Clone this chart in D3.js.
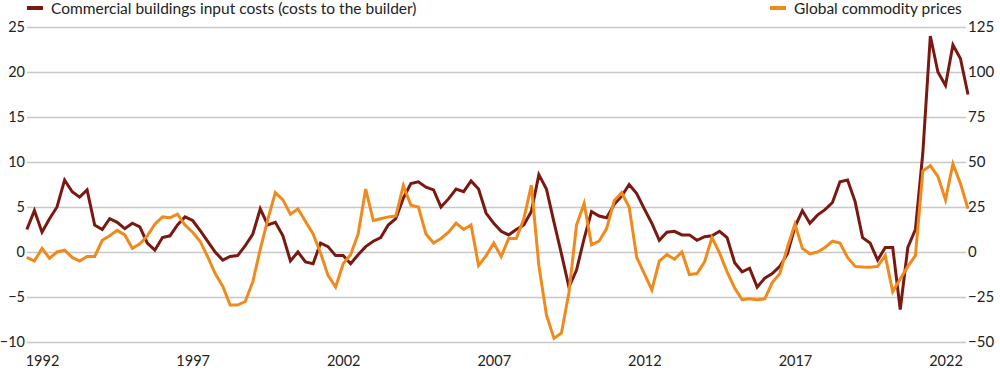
<!DOCTYPE html>
<meta charset="utf-8">
<style>
body { margin: 0; background: #fff; }
text { font-family: Lato, "Noto Sans", sans-serif; fill: #222; }
.grid line { stroke: #c8c8c8; stroke-width: 1.5; }
.grid .domain, .axis .domain { display: none; }
.line { fill: none; stroke-width: 3; stroke-linejoin: miter; }
</style>
<body></body>
<script src="https://d3js.org/d3.v7.min.js"></script>
<script>
// quarterly observations, Jul 1991 .. Oct 2022
var quarters = d3.timeMonth.range(new Date(1991, 6, 1), new Date(2022, 10, 1), 3);

// commercial buildings input costs, % y/y (left axis)
var buildingCosts = [
  2.5, 4.6, 2.2, 3.7, 5.0, 8.0, 6.7, 6.1, 6.9, 3.0,
  2.5, 3.7, 3.3, 2.6, 3.2, 2.8, 1.0, 0.2, 1.6, 1.8,
  3.0, 3.9, 3.5, 2.4, 1.2, 0.0, -0.9, -0.5, -0.4, 0.7,
  2.0, 4.8, 3.0, 3.3, 1.8, -1.0, 0.0, -1.1, -1.3, 1.0,
  0.6, -0.4, -0.4, -1.3, -0.3, 0.6, 1.2, 1.6, 3.0, 3.7,
  6.0, 7.6, 7.8, 7.2, 6.9, 5.0, 5.9, 7.0, 6.7, 7.9,
  7.0, 4.3, 3.2, 2.3, 1.9, 2.5, 3.0, 4.5, 8.6, 7.0,
  3.3, -0.2, -3.9, -2.0, 1.5, 4.5, 4.0, 3.8, 5.3, 6.2,
  7.5, 6.5, 4.8, 3.2, 1.3, 2.2, 2.3, 1.9, 1.9, 1.3,
  1.7, 1.8, 2.3, 1.6, -1.2, -2.2, -1.8, -3.9, -2.9, -2.4,
  -1.6, -0.2, 2.8, 4.6, 3.2, 4.1, 4.7, 5.5, 7.8, 8.0,
  5.6, 1.6, 1.0, -0.9, 0.5, 0.5, -6.4, 0.5, 2.5, 11.0,
  24.0, 20.0, 18.5, 23.0, 21.5, 17.5
];

// global commodity prices, % y/y (right axis)
var commodityPrices = [
  -3, -5, 2, -3.5, 0, 1, -3, -5, -2.5, -2.5,
  6.5, 9, 12, 9.5, 2, 4.5, 9, 15.5, 19.5, 19,
  21, 15, 11, 6, -2.5, -12, -19, -29.5, -29.5, -27.5,
  -16.5, 1.5, 18, 33, 29, 21, 24, 17, 10, -0.5,
  -13, -19.5, -6.5, -1.5, 10, 35, 17.5, 18.5, 19.5, 20,
  37, 26, 25, 10, 5, 7.5, 11, 16, 12.5, 15,
  -7.5, -2, 5, -2.5, 7.5, 7.5, 18.5, 37, -7.5, -35,
  -48, -45, -22.5, 15, 27, 4, 6, 13, 28.5, 33,
  25, -3, -12, -21, -5, -1.5, -4, 0, -12.5, -12,
  -5.5, 8, -0.5, -11, -20, -26.5, -26, -26.5, -26, -17,
  -12, 2.5, 15.5, 2, -1, 0, 2.5, 6, 5, -3,
  -8, -8.3, -8.5, -8, -2, -22, -15, -8, -2, 45,
  48, 42, 29, 49, 38, 24
];

var leftTicks = [-10, -5, 0, 5, 10, 15, 20, 25];
var rightTicks = [-50, -25, 0, 25, 50, 75, 100, 125];
var yearTicks = [1992, 1997, 2002, 2007, 2012, 2017, 2022];
var seriesNames = ["Commercial buildings input costs (costs to the builder)", "Global commodity prices"];
var colors = ["#7a1912", "#f08a1d"];

var width = 1000, height = 371;
var margin = {top: 27, right: 966, bottom: 342, left: 27}; // plot edges in px

var svg = d3.select("body").append("svg")
    .attr("width", width)
    .attr("height", height);

var x = d3.scaleTime()
    .domain([new Date(1992, 0, 1), new Date(2022, 0, 1)])
    .range([42, 945.5]);

var yLeft = d3.scaleLinear().domain([-10, 25]).range([margin.bottom, margin.top]);
var yRight = d3.scaleLinear().domain([-50, 125]).range([margin.bottom, margin.top]);

// gridlines + left labels
svg.append("g")
    .attr("class", "grid")
    .attr("transform", "translate(" + margin.left + ",0)")
    .call(d3.axisLeft(yLeft).tickValues(leftTicks).tickSize(-(margin.right - margin.left)).tickPadding(2))
    .selectAll("text").style("font-size", "14.5px");

// right labels
svg.append("g")
    .attr("class", "axis")
    .attr("transform", "translate(" + margin.right + ",0)")
    .call(d3.axisRight(yRight).tickValues(rightTicks).tickSize(0).tickPadding(2))
    .selectAll("text").style("font-size", "15px");

// x labels
svg.append("g")
    .attr("class", "axis")
    .attr("transform", "translate(0," + margin.bottom + ")")
    .call(d3.axisBottom(x)
        .tickValues(yearTicks.map(function(y) { return new Date(y, 0, 1); }))
        .tickFormat(d3.timeFormat("%Y"))
        .tickSize(0)
        .tickPadding(14))
    .selectAll("text").style("font-size", "14.5px");

var lineLeft = d3.line()
    .x(function(d, i) { return x(quarters[i]); })
    .y(function(d) { return yLeft(d); });

var lineRight = d3.line()
    .x(function(d, i) { return x(quarters[i]); })
    .y(function(d) { return yRight(d); });

svg.append("path")
    .datum(buildingCosts)
    .attr("class", "line")
    .attr("stroke", colors[0])
    .attr("d", lineLeft);

svg.append("path")
    .datum(commodityPrices)
    .attr("class", "line")
    .attr("stroke", colors[1])
    .attr("d", lineRight);

// legend
var legendX = [27, 770];
var legend = svg.selectAll(".legend")
    .data(seriesNames)
  .enter().append("g")
    .attr("class", "legend")
    .attr("transform", function(d, i) { return "translate(" + legendX[i] + ",0)"; });

legend.append("rect")
    .attr("y", 6)
    .attr("width", 16)
    .attr("height", 4)
    .attr("fill", function(d, i) { return colors[i]; });

legend.append("text")
    .attr("x", 24)
    .attr("y", 13.5)
    .style("font-size", "15.5px")
    .text(function(d) { return d; });
</script>
